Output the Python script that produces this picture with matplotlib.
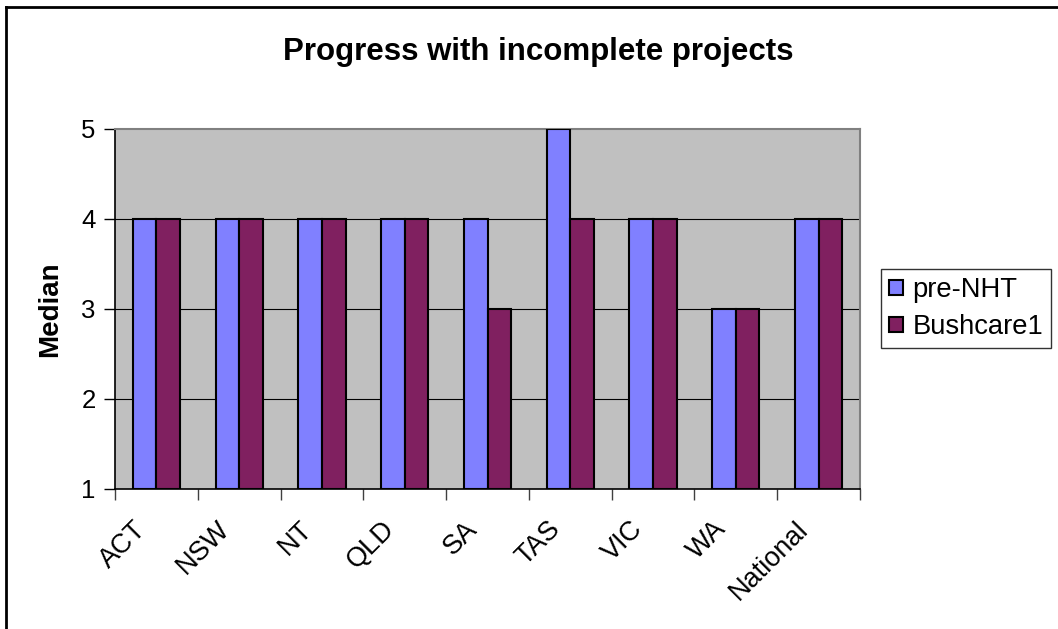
import matplotlib
matplotlib.use("Agg")
import matplotlib.pyplot as plt
import numpy as np
from matplotlib.lines import Line2D

plt.rcParams['font.family'] = ['Liberation Sans', 'DejaVu Sans']

categories = ["ACT", "NSW", "NT", "QLD", "SA", "TAS", "VIC", "WA", "National"]
pre_nht = [4, 4, 4, 4, 4, 5, 4, 3, 4]
bushcare1 = [4, 4, 4, 4, 3, 4, 4, 3, 4]
series_names = ["pre-NHT", "Bushcare1"]
y_ticks = [1, 2, 3, 4, 5]

W, H = 1058, 629
fig = plt.figure(figsize=(W / 100, H / 100), dpi=100)
ax = fig.add_axes([115 / W, 1 - 489 / H, 745 / W, 360 / H])
ax.set_facecolor("#C0C0C0")

x = np.arange(len(categories))
bw = 1 / 3.5
base = 1
ax.bar(x - bw / 2, np.array(pre_nht) - base, bw, bottom=base, color="#8080FF",
       edgecolor="black", linewidth=1.5, label=series_names[0], zorder=3)
ax.bar(x + bw / 2, np.array(bushcare1) - base, bw, bottom=base, color="#802060",
       edgecolor="black", linewidth=1.5, label=series_names[1], zorder=3)

ax.set_xlim(-0.5, len(categories) - 0.5)
ax.set_ylim(1, 5)
ax.set_yticks(y_ticks)
for v in y_ticks[1:-1]:
    ax.axhline(v, color="black", linewidth=0.8, zorder=1)

ax.set_xticks(np.arange(len(categories) + 1) - 0.5)
ax.set_xticklabels([])
ax.tick_params(axis="x", direction="out", length=8, width=1, color="#404040")
ax.tick_params(axis="y", direction="out", length=8, width=1, labelsize=18.5, pad=6)
for i, c in enumerate(categories):
    ax.text(i - 0.28, 0.7, c, rotation=45, ha="right", va="top", fontsize=19.5,
            rotation_mode="anchor", transform=ax.transData, clip_on=False)

for s in ["top", "right"]:
    ax.spines[s].set_color("#808080")
    ax.spines[s].set_linewidth(1.5)
for s in ["left", "bottom"]:
    ax.spines[s].set_color("black")
    ax.spines[s].set_linewidth(1.2)

ax.set_ylabel("Median", fontsize=20, fontweight="bold", labelpad=13)
fig.text(538 / W, 1 - 52 / H, "Progress with incomplete projects", ha="center",
         va="center", fontsize=22.5, fontweight="bold")

leg = fig.legend(loc="upper left", bbox_to_anchor=(881 / W, 1 - 269 / H),
                 fontsize=19.7, frameon=True, fancybox=False, handlelength=0.5,
                 handleheight=0.5, handletextpad=0.35, borderpad=0.3,
                 labelspacing=0.4, borderaxespad=0)
leg.get_frame().set_edgecolor("black")
leg.get_frame().set_linewidth(1.0)

# chart border (left and top edges)
fig.add_artist(Line2D([6 / W, 6 / W], [0, 1 - 7 / H], transform=fig.transFigure,
                      color="black", linewidth=2))
fig.add_artist(Line2D([6 / W, 1], [1 - 7 / H, 1 - 7 / H], transform=fig.transFigure,
                      color="black", linewidth=2))

fig.savefig("out.png", dpi=100)
